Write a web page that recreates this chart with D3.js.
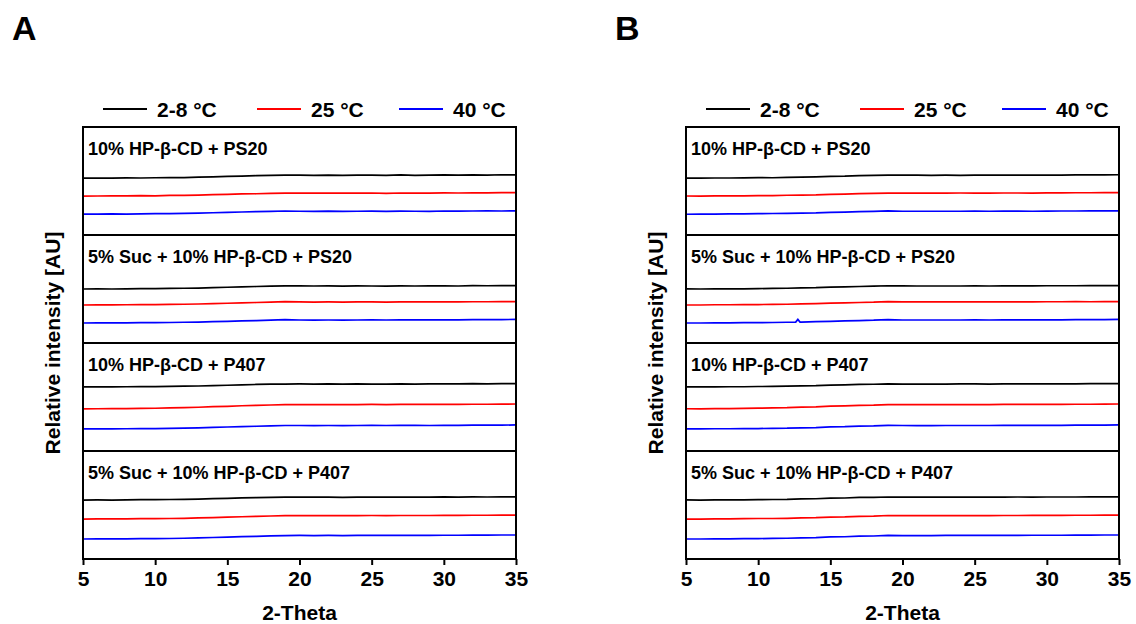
<!DOCTYPE html>
<html>
<head>
<meta charset="utf-8">
<script src="https://cdn.jsdelivr.net/npm/d3@7"></script>
<style>
  body { margin: 0; background: #fff; }
  text { font-family: Arial, "Liberation Sans", sans-serif; font-weight: bold; fill: #000; }
</style>
</head>
<body>
<div id="vis-container"></div>
<script>
// x values (2-theta, degrees)
let twoTheta = [5,6,7,8,9,10,11,12,13,14,15,16,17,18,19,20,21,22,23,24,25,26,27,28,29,30,31,32,33,34,35];
// same grid, with a few extra points round the small spike in panel B
let twoThetaSpike = [5,6,7,8,9,10,11,12,12.6,12.75,12.9,13,14,15,16,17,18,19,20,21,22,23,24,25,26,27,28,29,30,31,32,33,34,35];

let xTicks = [5,10,15,20,25,30,35];
let panelNames = ["A","B"];
let sampleNames = [
  "10% HP-\u03b2-CD + PS20",
  "5% Suc + 10% HP-\u03b2-CD + PS20",
  "10% HP-\u03b2-CD + P407",
  "5% Suc + 10% HP-\u03b2-CD + P407"
];
let tempLabels = ["2-8 \u00b0C","25 \u00b0C","40 \u00b0C"];
let tempColors = ["#000000","#ff0000","#0000ff"];

// intensities (AU, stacked offsets as plotted), panel A
let a1Black = [352.6,352.8,352.6,352.9,352.8,353.0,353.1,353.2,353.6,353.9,
  354.2,354.6,354.9,355.3,355.4,355.5,355.3,355.5,355.2,355.4,
  355.5,355.2,355.6,355.3,355.4,355.6,355.4,355.7,355.5,355.8,355.7];
let a1Red = [336.0,336.1,336.2,336.2,336.4,336.3,336.6,336.7,336.9,337.3,
  337.6,338.0,338.2,338.6,338.8,338.9,338.7,338.9,338.7,338.8,
  338.9,338.6,338.9,338.8,338.7,339.0,338.9,339.1,339.0,339.2,339.3];
let a1Blue = [319.3,319.3,319.5,319.4,319.6,319.7,319.8,320.0,320.2,320.6,
  320.9,321.3,321.6,321.8,322.2,322.0,321.9,322.1,321.9,322.0,
  322.1,321.9,322.1,322.0,321.9,322.2,322.1,322.2,322.3,322.2,322.4];
let a2Black = [250.0,250.1,250.0,250.2,250.3,250.3,250.5,250.7,250.9,251.3,
  251.6,252.0,252.3,252.6,252.9,253.0,252.8,252.9,252.7,252.9,
  252.8,252.7,252.9,252.8,252.9,253.0,252.8,253.1,253.0,253.1,253.1];
let a2Red = [235.2,235.3,235.3,235.4,235.5,235.5,235.7,235.9,236.1,236.5,
  236.8,237.2,237.5,237.8,238.3,238.0,237.9,238.0,237.9,238.0,
  238.1,237.9,238.1,238.0,238.0,238.2,238.1,238.2,238.2,238.3,238.3];
let a2Blue = [218.5,218.6,218.6,218.7,218.8,218.9,219.0,219.2,219.4,219.8,
  220.1,220.5,220.8,221.1,221.6,221.3,221.2,221.3,221.2,221.3,
  221.4,221.3,221.4,221.4,221.4,221.5,221.5,221.6,221.6,221.7,221.8];
let a3Black = [159.3,159.4,159.3,159.5,159.6,159.6,159.8,160.0,160.2,160.6,
  160.9,161.3,161.6,161.9,162.0,162.1,162.0,162.1,161.9,162.1,
  162.0,162.0,162.2,162.0,162.1,162.2,162.1,162.3,162.2,162.3,162.4];
let a3Red = [139.0,139.1,139.2,139.3,139.5,139.6,139.9,140.2,140.5,141.0,
  141.4,141.9,142.3,142.6,142.9,143.0,142.9,143.0,142.9,143.0,
  143.1,143.0,143.1,143.1,143.1,143.2,143.2,143.3,143.3,143.4,143.5];
let a3Blue = [120.4,120.5,120.5,120.6,120.7,120.8,120.9,121.1,121.4,121.8,
  122.2,122.6,122.9,123.3,123.6,123.6,123.5,123.6,123.5,123.6,
  123.7,123.6,123.7,123.7,123.6,123.8,123.8,123.9,123.9,124.0,124.1];
let a4Black = [54.6,54.7,54.6,54.8,54.9,54.9,55.1,55.3,55.5,55.9,
  56.2,56.6,56.9,57.1,57.3,57.4,57.2,57.3,57.1,57.3,
  57.3,57.2,57.4,57.3,57.3,57.5,57.3,57.5,57.4,57.5,57.5];
let a4Red = [37.0,37.1,37.1,37.2,37.3,37.4,37.5,37.7,38.0,38.4,
  38.7,39.1,39.5,39.8,40.1,40.2,40.1,40.2,40.1,40.2,
  40.3,40.2,40.3,40.3,40.3,40.4,40.4,40.5,40.5,40.6,40.7];
let a4Blue = [18.5,18.6,18.6,18.7,18.8,18.9,19.0,19.2,19.5,19.9,
  20.3,20.7,21.0,21.4,21.7,21.8,21.7,21.8,21.7,21.8,
  21.9,21.8,22.0,21.9,21.9,22.0,22.0,22.1,22.1,22.2,22.2];

// panel B
let b1Black = [352.7,352.6,352.8,352.8,352.9,353.1,353.0,353.3,353.5,353.9,
  354.3,354.5,355.0,355.2,355.5,355.4,355.4,355.3,355.4,355.3,
  355.5,355.4,355.5,355.4,355.5,355.5,355.5,355.6,355.6,355.7,355.8];
let b1Red = [336.1,336.0,336.2,336.3,336.3,336.5,336.5,336.8,337.0,337.2,
  337.7,337.9,338.3,338.5,338.8,338.8,338.8,338.8,338.8,338.9,
  338.8,338.8,338.9,338.9,338.8,339.0,339.0,339.1,339.1,339.2,339.2];
let b1Blue = [319.2,319.4,319.4,319.5,319.5,319.7,319.9,320.0,320.3,320.5,
  321.0,321.2,321.6,321.9,322.3,322.0,322.0,322.0,322.0,322.0,
  322.1,322.0,322.1,322.1,322.0,322.1,322.2,322.2,322.3,322.3,322.4];
let b2Black = [250.1,250.0,250.1,250.2,250.2,250.4,250.5,250.7,251.0,251.2,
  251.7,251.9,252.3,252.6,253.0,252.9,252.8,252.8,252.8,252.8,
  252.9,252.8,252.9,252.9,252.9,253.0,253.0,253.0,253.1,253.1,253.2];
let b2Red = [235.2,235.2,235.4,235.4,235.5,235.6,235.7,235.9,236.2,236.5,
  236.9,237.1,237.5,237.8,238.4,238.0,238.0,238.0,238.0,238.1,
  238.0,238.0,238.1,238.1,238.1,238.2,238.2,238.3,238.2,238.3,238.4];
let b2Blue = [218.5,218.5,218.6,218.7,218.8,218.8,219.0,219.2,219.3,221.8,219.4,219.4,
  219.7,220.1,220.5,220.8,221.1,221.7,221.3,221.3,221.3,221.3,
  221.3,221.4,221.3,221.4,221.4,221.5,221.5,221.5,221.6,221.6,221.7,221.8];
let b3Black = [159.4,159.3,159.4,159.5,159.5,159.7,159.8,160.0,160.3,160.5,
  161.0,161.2,161.6,161.8,162.1,162.0,162.0,162.0,162.0,162.1,
  162.1,162.0,162.1,162.1,162.1,162.2,162.2,162.2,162.3,162.3,162.4];
let b3Red = [139.1,139.0,139.2,139.3,139.4,139.7,139.9,140.1,140.6,140.9,
  141.5,141.8,142.3,142.5,143.0,142.9,142.9,142.9,143.0,143.0,
  143.0,143.0,143.1,143.1,143.2,143.2,143.2,143.3,143.3,143.4,143.5];
let b3Blue = [120.4,120.4,120.6,120.6,120.7,120.8,121.0,121.1,121.5,121.7,
  122.3,122.5,123.0,123.2,123.8,123.6,123.5,123.5,123.6,123.6,
  123.6,123.6,123.7,123.7,123.7,123.7,123.8,123.9,123.9,124.0,124.1];
let b4Black = [54.7,54.6,54.7,54.8,54.8,55.0,55.1,55.2,55.6,55.8,
  56.3,56.5,57.0,57.1,57.4,57.3,57.3,57.2,57.3,57.2,
  57.4,57.3,57.3,57.4,57.3,57.4,57.4,57.4,57.5,57.5,57.6];
let b4Red = [37.0,37.0,37.2,37.2,37.3,37.5,37.5,37.7,38.1,38.3,
  38.8,39.0,39.5,39.7,40.3,40.1,40.1,40.1,40.2,40.2,
  40.2,40.2,40.3,40.3,40.4,40.4,40.4,40.5,40.5,40.6,40.7];
let b4Blue = [18.5,18.5,18.7,18.7,18.8,18.9,19.1,19.2,19.6,19.8,
  20.4,20.6,21.1,21.3,21.9,21.7,21.7,21.7,21.8,21.8,
  21.8,21.8,21.9,21.9,22.0,22.0,22.0,22.1,22.1,22.2,22.2];

let seriesA = [
  [twoTheta, a1Black, 0], [twoTheta, a1Red, 1], [twoTheta, a1Blue, 2],
  [twoTheta, a2Black, 0], [twoTheta, a2Red, 1], [twoTheta, a2Blue, 2],
  [twoTheta, a3Black, 0], [twoTheta, a3Red, 1], [twoTheta, a3Blue, 2],
  [twoTheta, a4Black, 0], [twoTheta, a4Red, 1], [twoTheta, a4Blue, 2]
];
let seriesB = [
  [twoTheta, b1Black, 0], [twoTheta, b1Red, 1], [twoTheta, b1Blue, 2],
  [twoTheta, b2Black, 0], [twoTheta, b2Red, 1], [twoThetaSpike, b2Blue, 2],
  [twoTheta, b3Black, 0], [twoTheta, b3Red, 1], [twoTheta, b3Blue, 2],
  [twoTheta, b4Black, 0], [twoTheta, b4Red, 1], [twoTheta, b4Blue, 2]
];
let allSeries = [seriesA, seriesB];

let W = 1136, H = 624;
let panelLeft = [83, 686];
let plotTop = 127, w = 433, h = 432;

let svg = d3.select("#vis-container")
  .append("svg")
  .attr("width", W)
  .attr("height", H);

let x = d3.scaleLinear().domain([5,35]).range([0,w]);
let y = d3.scaleLinear().domain([0,400]).range([h,0]);
let bandTops = [400,300,200,100];

let line = d3.line()
  .x(d=>x(d[0]))
  .y(d=>y(d[1]));

panelNames.forEach((name,p)=>{
  let left = panelLeft[p];

  // panel letter
  svg.append("text")
    .attr("x", left - 71)
    .attr("y", 40)
    .style("font-size", "34px")
    .text(name);

  let g = svg.append("g").attr("transform", `translate(${left},${plotTop})`);

  // legend
  let lg = g.selectAll(".leg").data(tempLabels).enter()
    .append("g")
    .attr("transform", (d,i)=>`translate(${[20,174,316][i]},-18)`);
  lg.append("line")
    .attr("x1", 0).attr("x2", 44)
    .attr("stroke", (d,i)=>tempColors[i])
    .attr("stroke-width", 2);
  lg.append("text")
    .attr("x", 54).attr("y", 8)
    .style("font-size", "21px")
    .text(d=>d);

  // data lines
  g.selectAll(".trace").data(allSeries[p]).enter()
    .append("path")
    .attr("fill", "none")
    .attr("stroke", d=>tempColors[d[2]])
    .attr("stroke-width", 1.7)
    .attr("d", d=>line(d[0].map((t,i)=>[t, d[1][i]])));

  // separators between samples
  g.selectAll(".sep").data(bandTops.slice(1)).enter()
    .append("line")
    .attr("x1", 0).attr("x2", w)
    .attr("y1", d=>y(d)).attr("y2", d=>y(d))
    .attr("stroke", "#000")
    .attr("stroke-width", 2);

  // sample names
  g.selectAll(".sname").data(sampleNames).enter()
    .append("text")
    .attr("x", 5)
    .attr("y", (d,i)=>y(bandTops[i]) + 28)
    .style("font-size", "18px")
    .text(d=>d);

  // frame
  g.append("rect")
    .attr("width", w).attr("height", h)
    .attr("fill", "none")
    .attr("stroke", "#000")
    .attr("stroke-width", 2);

  // x axis
  let ax = g.append("g")
    .attr("transform", `translate(0,${h})`)
    .call(d3.axisBottom(x).tickValues(xTicks).tickSize(6).tickPadding(6).tickFormat(d3.format("d")));
  ax.select(".domain").remove();
  ax.selectAll(".tick line").attr("stroke-width", 2);
  ax.selectAll(".tick text")
    .attr("font-family", null)
    .style("font-size", "21px");

  g.append("text")
    .attr("x", w/2)
    .attr("y", 493)
    .attr("text-anchor", "middle")
    .style("font-size", "21px")
    .text("2-Theta");

  g.append("text")
    .attr("transform", `translate(-23,${h/2}) rotate(-90)`)
    .attr("text-anchor", "middle")
    .style("font-size", "21px")
    .text("Relative intensity [AU]");
});
</script>
</body>
</html>
